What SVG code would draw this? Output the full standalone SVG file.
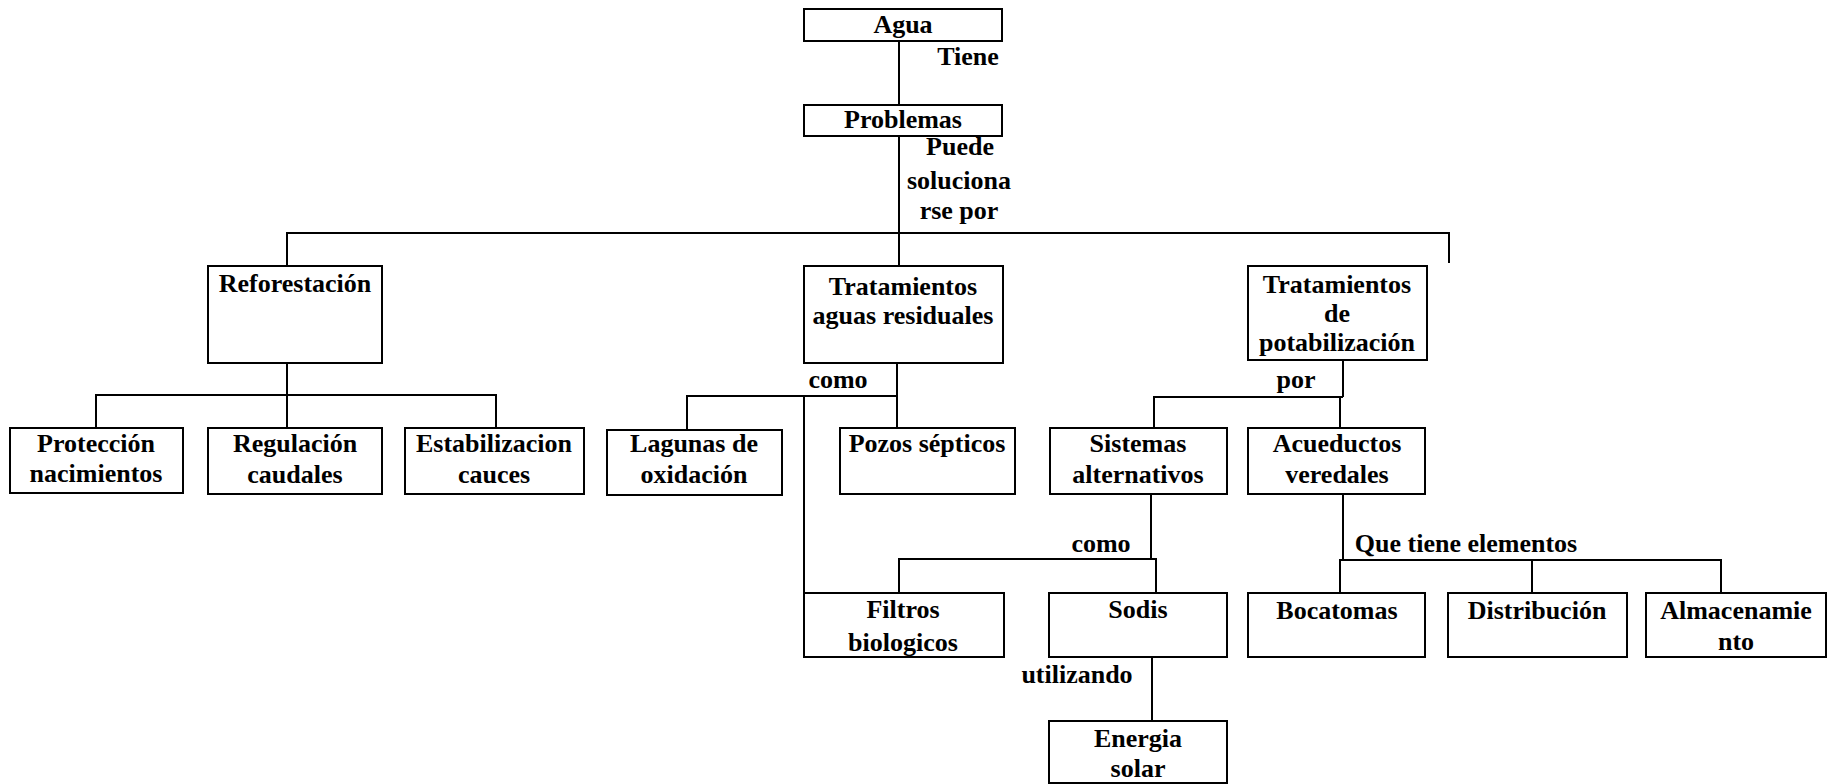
<svg xmlns="http://www.w3.org/2000/svg" width="1829" height="784" viewBox="0 0 1829 784">
  <style>
    .box { fill: #ffffff; stroke: #000000; stroke-width: 2; }
    .wire { fill: none; stroke: #000000; stroke-width: 2; }
    text { font-family: "Liberation Serif", "Times New Roman", serif; font-size: 26px; font-weight: bold; fill: #000000; text-anchor: middle; }
  </style>
  <rect x="0" y="0" width="1829" height="784" fill="#ffffff"/>

  <!-- connectors -->
  <g id="connectors" class="wire">
    <path d="M899,41 V105"/>
    <path d="M899,136 V266"/>
    <path d="M287,266 V233 H1449 V263"/>
    <path d="M287,363 V428"/>
    <path d="M96,428 V395 H496 V428"/>
    <path d="M897,363 V428"/>
    <path d="M687,430 V396 H897"/>
    <path d="M804,396 V593"/>
    <path d="M1343,360 V397"/>
    <path d="M1154,428 V397 H1343"/>
    <path d="M1340,397 V428"/>
    <path d="M1151,494 V559"/>
    <path d="M899,593 V559 H1156 V593"/>
    <path d="M1343,494 V560"/>
    <path d="M1340,593 V560 H1721 V593"/>
    <path d="M1532,560 V593"/>
    <path d="M1152,657 V721"/>
  </g>

  <!-- link labels -->
  <g id="labels">
    <text x="968" y="65">Tiene</text>
    <text x="960" y="155">Puede</text>
    <text x="959" y="189">soluciona</text>
    <text x="959" y="219">rse por</text>
    <text x="838" y="388">como</text>
    <text x="1296" y="388">por</text>
    <text x="1101" y="552">como</text>
    <text x="1466" y="552">Que tiene elementos</text>
    <text x="1077" y="683">utilizando</text>
  </g>

  <g id="agua">
    <rect class="box" x="804" y="9" width="198" height="32"/>
    <text x="903" y="33">Agua</text>
  </g>
  <g id="problemas">
    <rect class="box" x="804" y="105" width="198" height="31"/>
    <text x="903" y="128">Problemas</text>
  </g>

  <g id="reforestacion">
    <rect class="box" x="208" y="266" width="174" height="97"/>
    <text x="295" y="292">Reforestación</text>
  </g>
  <g id="tratamientos-residuales">
    <rect class="box" x="804" y="266" width="199" height="97"/>
    <text x="903" y="295">Tratamientos</text>
    <text x="903" y="324">aguas residuales</text>
  </g>
  <g id="tratamientos-potabilizacion">
    <rect class="box" x="1248" y="266" width="179" height="94"/>
    <text x="1337" y="293">Tratamientos</text>
    <text x="1337" y="322">de</text>
    <text x="1337" y="351">potabilización</text>
  </g>

  <g id="proteccion">
    <rect class="box" x="10" y="428" width="173" height="65"/>
    <text x="96" y="452">Protección</text>
    <text x="96" y="482">nacimientos</text>
  </g>
  <g id="regulacion">
    <rect class="box" x="208" y="428" width="174" height="66"/>
    <text x="295" y="452">Regulación</text>
    <text x="295" y="483">caudales</text>
  </g>
  <g id="estabilizacion">
    <rect class="box" x="405" y="428" width="179" height="66"/>
    <text x="494" y="452">Estabilizacion</text>
    <text x="494" y="483">cauces</text>
  </g>
  <g id="lagunas">
    <rect class="box" x="607" y="430" width="175" height="65"/>
    <text x="694" y="452">Lagunas de</text>
    <text x="694" y="483">oxidación</text>
  </g>
  <g id="pozos">
    <rect class="box" x="840" y="428" width="175" height="66"/>
    <text x="927" y="452">Pozos sépticos</text>
  </g>
  <g id="sistemas">
    <rect class="box" x="1050" y="428" width="177" height="66"/>
    <text x="1138" y="452">Sistemas</text>
    <text x="1138" y="483">alternativos</text>
  </g>
  <g id="acueductos">
    <rect class="box" x="1248" y="428" width="177" height="66"/>
    <text x="1337" y="452">Acueductos</text>
    <text x="1337" y="483">veredales</text>
  </g>

  <g id="filtros">
    <rect class="box" x="804" y="593" width="200" height="64"/>
    <text x="903" y="618">Filtros</text>
    <text x="903" y="651">biologicos</text>
  </g>
  <g id="sodis">
    <rect class="box" x="1049" y="593" width="178" height="64"/>
    <text x="1138" y="618">Sodis</text>
  </g>
  <g id="bocatomas">
    <rect class="box" x="1248" y="593" width="177" height="64"/>
    <text x="1337" y="619">Bocatomas</text>
  </g>
  <g id="distribucion">
    <rect class="box" x="1448" y="593" width="179" height="64"/>
    <text x="1537" y="619">Distribución</text>
  </g>
  <g id="almacenamiento">
    <rect class="box" x="1646" y="593" width="180" height="64"/>
    <text x="1736" y="619">Almacenamie</text>
    <text x="1736" y="650">nto</text>
  </g>

  <g id="energia">
    <rect class="box" x="1049" y="721" width="178" height="62"/>
    <text x="1138" y="747">Energia</text>
    <text x="1138" y="777">solar</text>
  </g>
</svg>
